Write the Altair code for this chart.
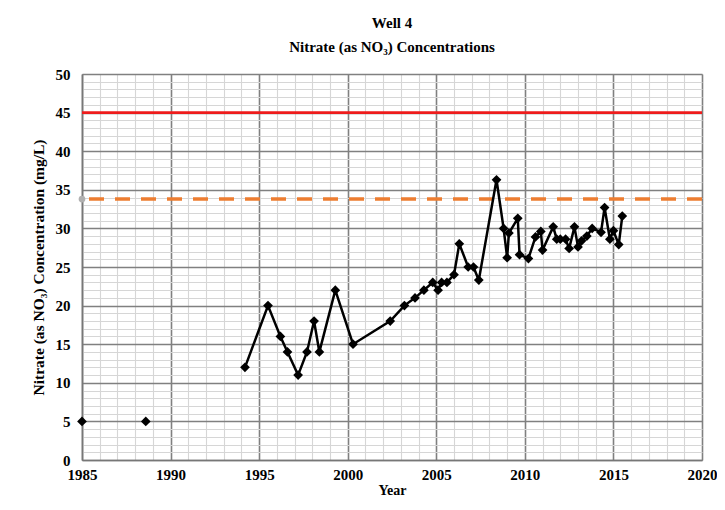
import altair as alt
import pandas as pd

# ---- data ----
early_years = [1985.0, 1988.6]
early_vals = [5, 5]

years = [1994.2, 1995.5, 1996.2, 1996.6, 1997.2, 1997.7, 1998.1, 1998.4, 1999.3, 2000.3,
         2002.4, 2003.2, 2003.8, 2004.3, 2004.8, 2005.1, 2005.3, 2005.6, 2006.0, 2006.3,
         2006.8, 2007.1, 2007.4, 2008.4, 2008.8, 2009.0, 2009.1, 2009.6, 2009.7, 2010.2,
         2010.6, 2010.9, 2011.0, 2011.6, 2011.8, 2012.0, 2012.3, 2012.5, 2012.8, 2013.0,
         2013.2, 2013.5, 2013.8, 2014.3, 2014.5, 2014.8, 2015.0, 2015.3, 2015.5]
vals = [12, 20, 16, 14, 11, 14, 18, 14, 22, 15,
        18, 20, 21, 22, 23, 22, 23, 23, 24, 28,
        25, 25, 23.3, 36.3, 30, 26.2, 29.4, 31.3, 26.6, 26.1,
        28.9, 29.6, 27.2, 30.2, 28.6, 28.6, 28.6, 27.4, 30.2, 27.6,
        28.4, 29.0, 30.0, 29.5, 32.7, 28.6, 29.7, 27.9, 31.6]

mcl = 45
trigger = 33.8
x_ticks = list(range(1985, 2021))
y_ticks = list(range(0, 51))

serif = "Liberation Serif"

main = pd.DataFrame({"Year": years, "Nitrate": vals, "i": range(len(years))})
early = pd.DataFrame({"Year": early_years, "Nitrate": early_vals})
lines = pd.DataFrame({"v": [mcl, trigger], "kind": ["mcl", "trigger"]})
dot = pd.DataFrame({"Year": [1985.0], "Nitrate": [trigger]})

grid_color = {"condition": {"test": "datum.value % 5 === 0", "value": "#808080"}, "value": "#d6d6d6"}
grid_width = {"condition": {"test": "datum.value % 5 === 0", "value": 1.6}, "value": 1.1}

xscale = alt.Scale(domain=[1985, 2020], nice=False, zero=False)
yscale = alt.Scale(domain=[0, 50], nice=False)

xax = alt.Axis(values=x_ticks, tickCount=len(x_ticks), grid=True, gridColor=grid_color, gridWidth=grid_width,
               labelExpr="datum.value % 5 === 0 ? datum.label : ''", format="d",
               ticks=False, labelFont=serif, labelFontSize=15, labelFontWeight="bold",
               labelColor="black", labelPadding=7, labelFlush=False, labelOverlap=False,
               title="Year", titleFont=serif, titleFontSize=14, titleFontWeight="bold",
               titleColor="black", titlePadding=1, domainColor="#777", domainWidth=1.6)
yax = alt.Axis(values=y_ticks, tickCount=len(y_ticks), grid=True, gridColor=grid_color, gridWidth=grid_width,
               labelExpr="datum.value % 5 === 0 ? datum.label : ''",
               ticks=False, labelFont=serif, labelFontSize=15, labelFontWeight="bold",
               labelColor="black", labelPadding=12, labelOverlap=False,
               title="Nitrate (as NO₃)  Concentration (mg/L)", titleFont=serif,
               titleFontSize=15.5, titleFontWeight="bold", titleColor="black",
               titlePadding=9, domainColor="#777", domainWidth=1.6)

base_line = alt.Chart(main).mark_line(color="black", strokeWidth=2.5).encode(
    x=alt.X("Year:Q", scale=xscale, axis=xax),
    y=alt.Y("Nitrate:Q", scale=yscale, axis=yax),
    order="i:Q",
)
pts = alt.Chart(main).mark_point(shape="diamond", filled=True, color="black", size=95, opacity=1).encode(
    x=alt.X("Year:Q", scale=xscale), y=alt.Y("Nitrate:Q", scale=yscale))
early_pts = alt.Chart(early).mark_point(shape="diamond", filled=True, color="black", size=95, opacity=1).encode(
    x=alt.X("Year:Q", scale=xscale), y=alt.Y("Nitrate:Q", scale=yscale))

red = alt.Chart(lines[lines.kind == "mcl"]).mark_rule(color="#ee1c1c", strokeWidth=2.8).encode(
    y=alt.Y("v:Q", scale=yscale))
orange = alt.Chart(lines[lines.kind == "trigger"]).mark_rule(
    color="#ed7d31", strokeWidth=3.5, strokeDash=[15, 11]).encode(y=alt.Y("v:Q", scale=yscale))
gray_dot = alt.Chart(dot).mark_point(shape="circle", filled=True, color="#b0b0b0", size=45, opacity=1).encode(
    x=alt.X("Year:Q", scale=xscale), y=alt.Y("Nitrate:Q", scale=yscale))

chart = alt.layer(red, orange, gray_dot, base_line, pts, early_pts).properties(
    width=620, height=386,
    title=alt.TitleParams(["Well 4", "Nitrate (as NO₃) Concentrations"], anchor="middle",
                          font=serif, fontSize=15, fontWeight="bold", color="black",
                          lineHeight=24, offset=12),
    autosize=alt.AutoSizeParams(type="none"),
    padding={"left": 74, "top": 66, "right": 15, "bottom": 41},
).configure_view(stroke=None).configure(background="white")

chart.save("out.html", embed_options={"renderer": "svg", "actions": False})
